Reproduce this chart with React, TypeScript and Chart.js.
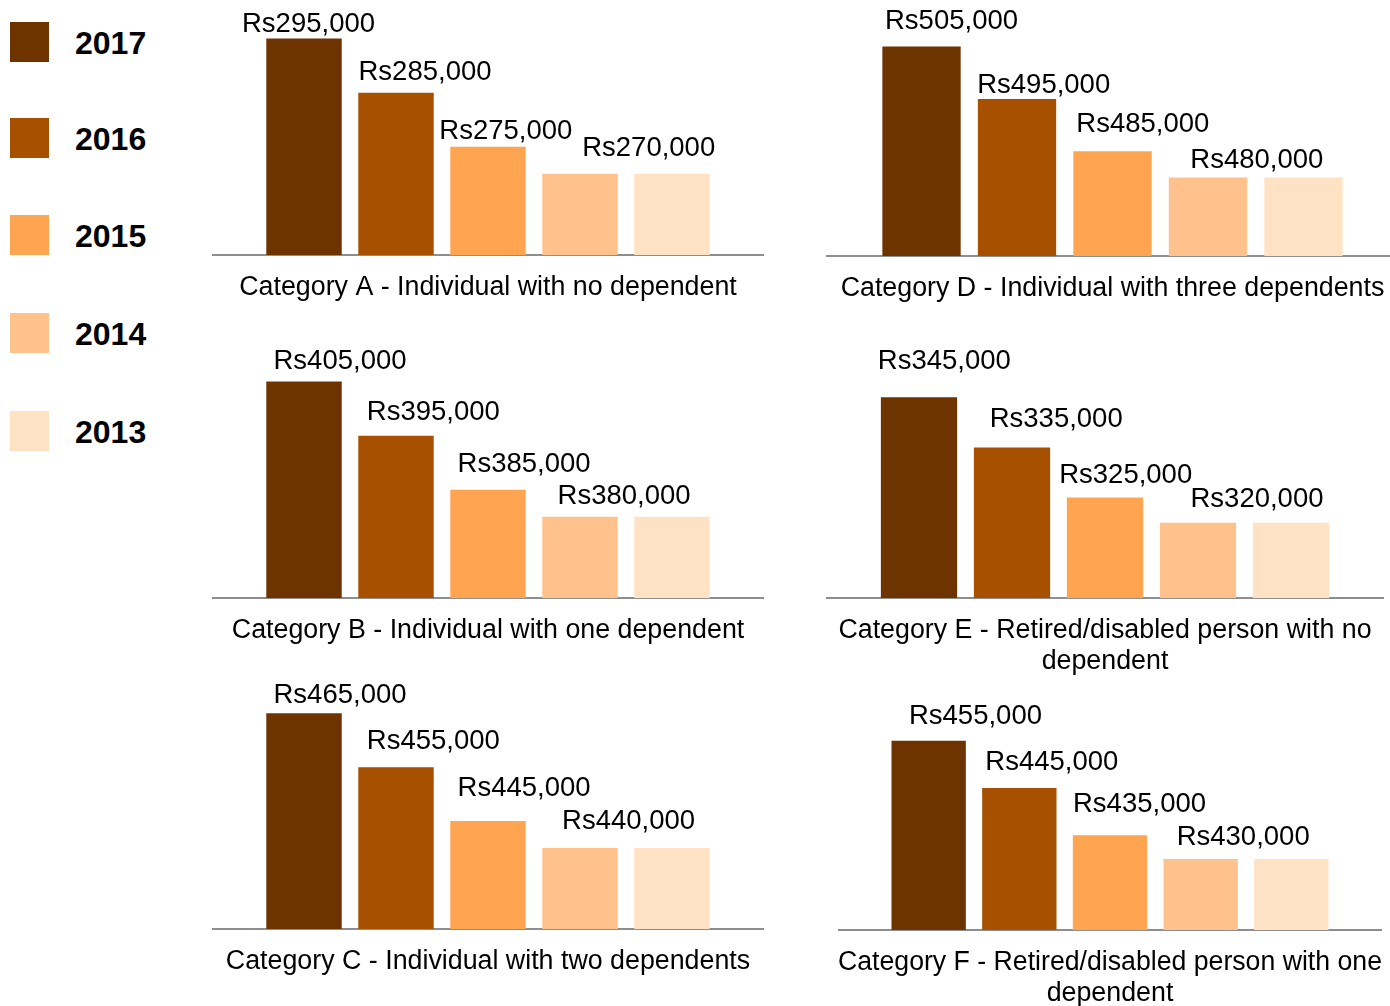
import React, { useEffect, useRef } from "react";
import { Chart, registerables } from "chart.js";

Chart.register(...registerables);

// ---------------- data ----------------
const SERIES_YEARS = ["2017", "2016", "2015", "2014", "2013"];
const SERIES_COLORS = ["#6E3400", "#A65000", "#FFA552", "#FFC28C", "#FFE1C4"];

const CATEGORY_A = [295000, 285000, 275000, 270000, 270000];
const CATEGORY_B = [405000, 395000, 385000, 380000, 380000];
const CATEGORY_C = [465000, 455000, 445000, 440000, 440000];
const CATEGORY_D = [505000, 495000, 485000, 480000, 480000];
const CATEGORY_E = [345000, 335000, 325000, 320000, 320000];
const CATEGORY_F = [455000, 445000, 435000, 430000, 430000];

const TITLE_A = ["Category A - Individual with no dependent"];
const TITLE_B = ["Category B - Individual with one dependent"];
const TITLE_C = ["Category C - Individual with two dependents"];
const TITLE_D = ["Category D - Individual with three dependents"];
const TITLE_E = ["Category E - Retired/disabled person with no", "dependent"];
const TITLE_F = ["Category F - Retired/disabled person with one", "dependent"];

// value axis ranges (axis is not zero based)
const AXIS_MIN = [255000, 365000, 425000, 465000, 305000, 415000];
const AXIS_MAX = [300000, 410000, 470000, 510000, 350000, 460000];

// 2013 shares the 2014 value and carries no label
const LABELED = [true, true, true, true, false];

// ---------------- layout / style ----------------
const FONT = "'Liberation Sans', Arial, Helvetica, sans-serif";
const LABEL_SIZE = 27.5;
const TITLE_SIZE = 26.8;
const TITLE_LH = 31;
const TITLE_PAD = 17;
const LEGEND_TOPS = [22, 118, 215, 313, 411];

type Panel = {
  values: number[];
  title: string[];
  min: number;
  max: number;
  left: number;
  top: number;
  width: number;
  axisY: number;
  chartTop: number;
  offsets: number[][];
};

const PANELS: Panel[] = [
  { values: CATEGORY_A, title: TITLE_A, min: AXIS_MIN[0], max: AXIS_MAX[0], left: 212, top: 0, width: 552, axisY: 255, chartTop: 11.5,
    offsets: [[4.5, 16.2], [29, 23], [17.8, 17.4], [68.7, 27.5]] },
  { values: CATEGORY_B, title: TITLE_B, min: AXIS_MIN[1], max: AXIS_MAX[1], left: 212, top: 320, width: 552, axisY: 598, chartTop: 354.5,
    offsets: [[36, 22.7], [37.3, 25.7], [36.1, 27.7], [44.1, 22.6]] },
  { values: CATEGORY_C, title: TITLE_C, min: AXIS_MIN[2], max: AXIS_MAX[2], left: 212, top: 660, width: 552, axisY: 929, chartTop: 686.2,
    offsets: [[36, 20.5], [37.3, 28], [36.1, 34.8], [48.6, 28.7]] },
  { values: CATEGORY_D, title: TITLE_D, min: AXIS_MIN[3], max: AXIS_MAX[3], left: 826, top: 0, width: 573, axisY: 256, chartTop: 20.4,
    offsets: [[30, 27.7], [26.7, 15.6], [30.3, 28.8], [48.8, 19.8]] },
  { values: CATEGORY_E, title: TITLE_E, min: AXIS_MIN[4], max: AXIS_MAX[4], left: 826, top: 320, width: 558, axisY: 598, chartTop: 372.1,
    offsets: [[25.3, 38.3], [44.2, 30.7], [20.7, 24.3], [59, 25.5]] },
  { values: CATEGORY_F, title: TITLE_F, min: AXIS_MIN[5], max: AXIS_MAX[5], left: 838, top: 660, width: 544, axisY: 930, chartTop: 717,
    offsets: [[46.8, 27], [32.5, 28.3], [29.5, 32.7], [42.5, 24.1]] },
];

const fmt = (v: number) => "Rs" + v.toLocaleString("en-US");

const valueLabels = {
  id: "valueLabels",
  afterDatasetsDraw(chart: any, _args: any, opts: any) {
    const { ctx } = chart;
    const offsets: number[][] = opts.offsets || [];
    ctx.save();
    ctx.font = `${LABEL_SIZE}px ${FONT}`;
    ctx.fillStyle = "#000000";
    ctx.textAlign = "center";
    ctx.textBaseline = "alphabetic";
    chart.data.datasets.forEach((ds: any, i: number) => {
      if (!LABELED[i]) return;
      const off = offsets[i];
      if (!off) return;
      const el = chart.getDatasetMeta(i).data[0];
      if (!el) return;
      const v = ds.data[0];
      ctx.fillText(fmt(v), el.x + off[0], el.y - off[1] + 0.358 * LABEL_SIZE);
    });
    ctx.restore();
  },
};

function SmallChart({ panel }: { panel: Panel }) {
  const ref = useRef<HTMLCanvasElement | null>(null);
  const lines = panel.title.length;
  const height = Math.round(panel.axisY - panel.top + TITLE_LH * lines + TITLE_PAD);

  useEffect(() => {
    if (!ref.current) return;
    const chart = new Chart(ref.current, {
      type: "bar",
      data: {
        labels: [panel.title.join(" ")],
        datasets: SERIES_YEARS.map((y, i) => ({
          label: y,
          data: [panel.values[i]],
          backgroundColor: SERIES_COLORS[i],
          borderWidth: 0,
          categoryPercentage: 0.8333,
          barPercentage: 0.82,
        })),
      },
      options: {
        animation: false,
        responsive: false,
        maintainAspectRatio: false,
        layout: { padding: { top: panel.chartTop - panel.top, left: 0, right: 0, bottom: 0 } },
        plugins: {
          legend: { display: false },
          tooltip: { enabled: false },
          title: { display: false },
          valueLabels: { offsets: panel.offsets },
        } as any,
        scales: {
          x: {
            type: "category",
            offset: true,
            grid: { display: false, drawTicks: false },
            ticks: { display: false },
            border: { display: true, color: "#8E8E8E", width: 2 },
            title: {
              display: true,
              text: panel.title,
              color: "#000000",
              font: { family: FONT, size: TITLE_SIZE, lineHeight: `${TITLE_LH}px` },
              padding: { top: TITLE_PAD, bottom: 0 },
            },
          },
          y: {
            type: "linear",
            display: false,
            min: panel.min,
            max: panel.max,
            beginAtZero: false,
          },
        },
      },
      plugins: [valueLabels],
    });
    return () => chart.destroy();
  }, [panel]);

  return (
    <canvas
      ref={ref}
      width={panel.width}
      height={height}
      style={{ position: "absolute", left: panel.left, top: panel.top, width: panel.width, height }}
    />
  );
}

export default function App() {
  return (
    <div
      style={{
        position: "absolute",
        left: 0,
        top: 0,
        width: 1390,
        height: 1006,
        overflow: "hidden",
        background: "#ffffff",
        fontFamily: FONT,
      }}
    >
      {SERIES_YEARS.map((y, i) => {
        const top = LEGEND_TOPS[i];
        return (
          <React.Fragment key={y}>
            <div
              style={{
                position: "absolute",
                left: 10,
                top,
                width: 39,
                height: 40,
                background: SERIES_COLORS[i],
              }}
            />
            <div
              style={{
                position: "absolute",
                left: 75,
                top: top + 1,
                height: 40,
                lineHeight: "40px",
                fontSize: 32,
                fontWeight: "bold",
                color: "#000",
                whiteSpace: "nowrap",
              }}
            >
              {y}
            </div>
          </React.Fragment>
        );
      })}
      {PANELS.map((p, i) => (
        <SmallChart key={i} panel={p} />
      ))}
    </div>
  );
}
